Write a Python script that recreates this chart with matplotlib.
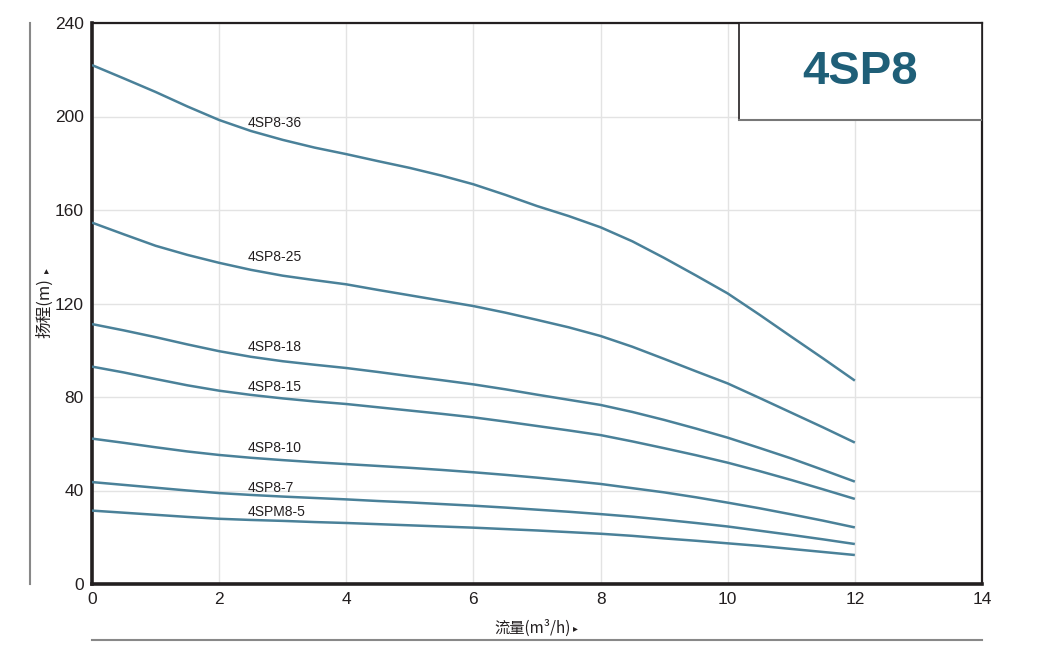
"""4SP8 pump performance curves (head vs flow)."""

import matplotlib

matplotlib.use("Agg")
import matplotlib.pyplot as plt
from matplotlib.patches import Rectangle

plt.rcParams["font.family"] = ["Liberation Sans", "DejaVu Sans"]
CJK = ["Noto Sans CJK SC", "DejaVu Sans"]

# flow in m3/h, read every 0.5
FLOW = [0, 0.5, 1, 1.5, 2, 2.5, 3, 3.5, 4, 4.5, 5, 5.5, 6, 6.5, 7, 7.5, 8, 8.5, 9, 9.5,
        10, 10.5, 11, 11.5, 12]

HEAD_36 = [222.0, 216.3, 210.5, 204.3, 198.5, 193.8, 190.0, 186.7, 183.9, 180.9, 178.0, 174.7, 171.0,
           166.5, 161.7, 157.4, 152.6, 146.6, 139.5, 132.0, 124.3, 115.2, 105.8, 96.5, 87.0]
HEAD_25 = [154.6, 149.6, 144.7, 140.8, 137.4, 134.4, 131.9, 130.0, 128.2, 125.8, 123.5, 121.2, 118.9,
           116.1, 113.0, 109.8, 106.1, 101.5, 96.3, 91.0, 85.8, 79.6, 73.3, 67.0, 60.5]
HEAD_18 = [111.2, 108.5, 105.6, 102.5, 99.6, 97.2, 95.3, 93.8, 92.4, 90.7, 88.9, 87.2, 85.4,
           83.3, 81.0, 78.8, 76.6, 73.6, 70.2, 66.5, 62.6, 58.2, 53.7, 48.8, 43.8]
HEAD_15 = [93.0, 90.5, 87.7, 85.0, 82.7, 80.9, 79.4, 78.1, 77.0, 75.6, 74.2, 72.8, 71.3,
           69.5, 67.6, 65.7, 63.7, 61.0, 58.1, 55.1, 51.9, 48.3, 44.5, 40.5, 36.4]
HEAD_10 = [62.2, 60.4, 58.5, 56.7, 55.2, 54.0, 53.0, 52.1, 51.3, 50.5, 49.7, 48.8, 47.8,
           46.7, 45.5, 44.2, 42.8, 41.0, 39.2, 37.1, 34.8, 32.4, 29.8, 27.1, 24.2]
HEAD_7 = [43.6, 42.4, 41.2, 40.0, 38.9, 38.1, 37.4, 36.8, 36.2, 35.5, 34.9, 34.2, 33.5,
          32.7, 31.8, 30.9, 29.9, 28.8, 27.5, 26.1, 24.6, 22.8, 21.0, 19.1, 17.1]
HEAD_5 = [31.4, 30.5, 29.6, 28.7, 27.9, 27.4, 27.0, 26.5, 26.1, 25.6, 25.1, 24.6, 24.1,
          23.5, 22.9, 22.2, 21.5, 20.6, 19.5, 18.5, 17.4, 16.3, 15.0, 13.7, 12.4]

MODELS = ["4SP8-36", "4SP8-25", "4SP8-18", "4SP8-15", "4SP8-10", "4SP8-7", "4SPM8-5"]
HEADS = [HEAD_36, HEAD_25, HEAD_18, HEAD_15, HEAD_10, HEAD_7, HEAD_5]
LABEL_Y = [197.2, 139.9, 101.6, 84.3, 58.2, 41.1, 30.8]
LABEL_X = 2.45

X_TICKS = [0, 2, 4, 6, 8, 10, 12, 14]
Y_TICKS = [0, 40, 80, 120, 160, 200, 240]

LINE = "#4a8199"
DARK = "#231f20"

fig = plt.figure(figsize=(10.5, 6.72), dpi=100)
ax = fig.add_axes([92 / 1050, 1 - 584 / 672, 890 / 1050, 561 / 672])

for model, head, ly in zip(MODELS, HEADS, LABEL_Y):
    ax.plot(FLOW, head, color=LINE, lw=1.8, solid_capstyle="butt", solid_joinstyle="round",
            zorder=3)
    ax.text(LABEL_X, ly, model, fontsize=10, color=DARK, va="center", ha="left", zorder=4)

ax.set_xlim(0, 14)
ax.set_ylim(0, 240)
ax.set_xticks(X_TICKS)
ax.set_yticks(Y_TICKS)
ax.tick_params(length=0, labelsize=12.5, colors=DARK, pad=6)
ax.grid(True, color="#e3e3e3", lw=1, zorder=0)
for side, sp in ax.spines.items():
    sp.set_color(DARK)
    sp.set_linewidth(2.6 if side in ("left", "bottom") else 1.6)

# title box in the top-right corner
box = Rectangle((0.727, 0.827), 0.273, 0.173, transform=ax.transAxes,
                facecolor="white", edgecolor=DARK, lw=1.2, zorder=5)
ax.add_patch(box)
ax.plot([0.727, 1.0], [0.827, 0.827], transform=ax.transAxes, color="#777777", lw=1.5, zorder=6)
ax.text(0.8635, 0.9135, "4SP8", transform=ax.transAxes, fontsize=34, fontweight="bold",
        color="#1f5f78", ha="center", va="center", zorder=7)

# axis titles with small arrow heads
fig.text(533 / 1050, 1 - 628 / 672, "流量(m³/h)", ha="center", va="center",
         fontsize=11, color=DARK, family=CJK)
fig.text(575 / 1050, 1 - 628 / 672, "▸", ha="center", va="center",
         fontsize=7, color=DARK, family=CJK)
fig.text(45 / 1050, 1 - 308 / 672, "扬程(m)", rotation=90, ha="center", va="center",
         fontsize=12, color=DARK, family=CJK)
fig.text(46 / 1050, 1 - 271 / 672, "▸", rotation=90, ha="center", va="center",
         fontsize=7, color=DARK, family=CJK)

# decorative frame lines
fig.add_artist(plt.Line2D([30 / 1050, 30 / 1050], [1 - 584 / 672, 1 - 23 / 672],
                          color="#888888", lw=1.5))
fig.add_artist(plt.Line2D([92 / 1050, 982 / 1050], [1 - 640 / 672, 1 - 640 / 672],
                          color="#888888", lw=1.5))

fig.savefig("out.png", dpi=100)
